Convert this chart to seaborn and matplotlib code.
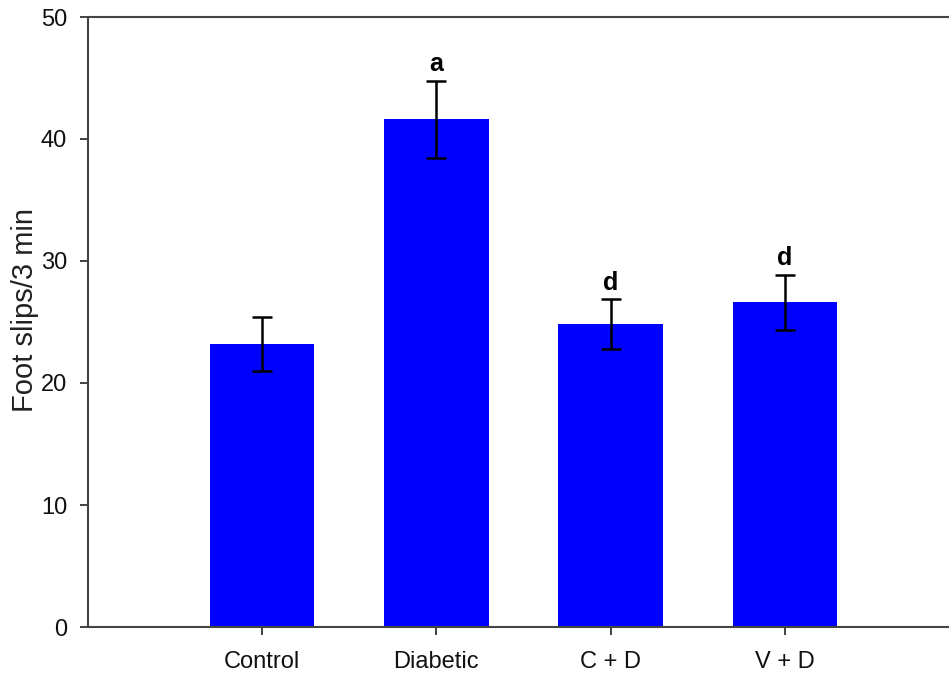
import matplotlib
matplotlib.use("Agg")
import matplotlib.pyplot as plt
import seaborn as sns
import pandas as pd

groups = ["Control", "Diabetic", "C + D", "V + D"]
means = [23.2, 41.6, 24.8, 26.6]
sems = [2.2, 3.15, 2.05, 2.25]
letters = ["", "a", "d", "d"]
y_ticks = [0, 10, 20, 30, 40, 50]

sns.set_theme(style="ticks")
plt.rcParams['font.family'] = ['Liberation Sans', 'DejaVu Sans']

fig = plt.figure(figsize=(9.49, 6.74), dpi=100)
ax = fig.add_axes([88/949, 1-627/674, (959-88)/949, (627-17)/674])

df = pd.DataFrame({"group": groups, "mean": means})
sns.barplot(data=df, x="group", y="mean", color="#0000FF", saturation=1,
            width=0.6, errorbar=None, ax=ax, edgecolor="none")
ax.errorbar(range(len(groups)), means, yerr=sems, fmt="none", ecolor="black",
            elinewidth=1.8, capsize=7.2, capthick=1.8, zorder=5)
for i, (m, s, l) in enumerate(zip(means, sems, letters)):
    if l:
        ax.text(i, m + s + 0.4, l, ha="center", va="bottom", fontsize=18,
                fontweight="bold", color="black")

ax.set_xlim(-1, 4)
ax.set_ylim(0, 50)
ax.set_yticks(y_ticks)
ax.set_xlabel("")
ax.set_ylabel("Foot slips/3 min", fontsize=21, color="#222222")
ax.yaxis.set_label_coords(-0.056, 0.52)
ax.tick_params(axis="both", labelsize=17, length=6, width=1.3, colors="#333333",
               labelcolor="#111111", direction="out")
ax.tick_params(axis="y", pad=9)
ax.tick_params(axis="x", pad=11)
for side in ["left", "bottom", "top", "right"]:
    ax.spines[side].set_visible(True)
    ax.spines[side].set_color("#444444")
    ax.spines[side].set_linewidth(1.5)

fig.savefig("out.png", dpi=100)
